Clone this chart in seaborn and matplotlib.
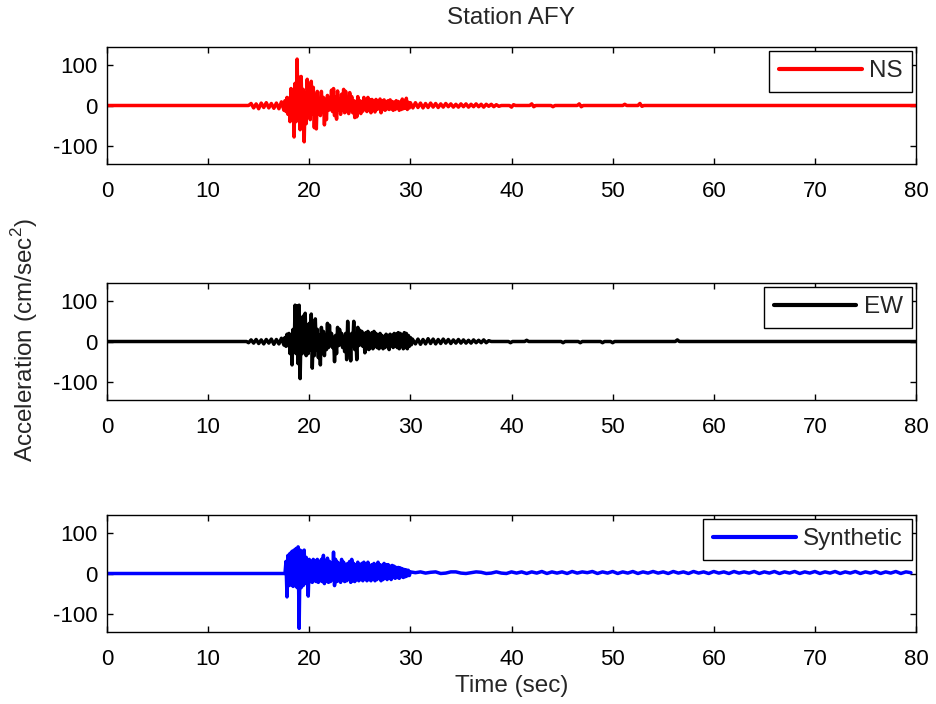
import matplotlib
matplotlib.use("Agg")
import matplotlib.pyplot as plt
import seaborn as sns
import pandas as pd

# ---------------- data ----------------
# NS component: time (s) and acceleration (cm/s^2)
ns_time = [
    0.0, 14.0, 14.25, 14.5, 14.75, 15.0, 15.25, 15.5, 15.75, 16.0,
    16.25, 16.5, 16.75, 17.0, 17.25, 17.5,
    17.6, 17.7, 17.8, 17.9, 18.0, 18.1, 18.2, 18.3, 18.4, 18.5,
    18.6, 18.7, 18.8, 18.9, 19.0, 19.1, 19.2, 19.3, 19.4, 19.5,
    19.6, 19.7, 19.8, 19.9, 20.0, 20.1, 20.2, 20.3, 20.4, 20.5,
    20.6, 20.7, 20.8, 20.9, 21.0, 21.1, 21.2, 21.3, 21.4, 21.5,
    21.6, 21.7, 21.8, 21.9, 22.0, 22.1, 22.2, 22.3, 22.4, 22.5,
    22.6, 22.7, 22.8, 22.9, 23.0, 23.1, 23.2, 23.3, 23.4, 23.5,
    23.6, 23.7, 23.8, 23.9, 24.0, 24.1, 24.2, 24.3, 24.4, 24.5,
    24.6, 24.7, 24.8, 24.9, 25.0, 25.1, 25.2, 25.3, 25.4, 25.5,
    25.6, 25.7, 25.8, 25.9, 26.0, 26.1, 26.2, 26.3, 26.4, 26.5,
    26.6, 26.7, 26.8, 26.9, 27.0, 27.1, 27.2, 27.3, 27.4, 27.5,
    27.6, 27.7, 27.8, 27.9, 28.0, 28.1, 28.2, 28.3, 28.4, 28.5,
    28.6, 28.7, 28.8, 28.9, 29.0, 29.1, 29.2, 29.3, 29.4, 29.5,
    29.6, 29.7, 29.8, 29.9, 30.0,
    30.25, 30.5, 30.75, 31.0, 31.25, 31.5, 31.75, 32.0, 32.25, 32.5,
    32.75, 33.0, 33.25, 33.5, 33.75, 34.0, 34.25, 34.5, 34.75, 35.0,
    35.25, 35.5, 35.75, 36.0, 36.25, 36.5, 36.75, 37.0, 37.25, 37.5,
    37.75, 38.0, 38.25, 38.5, 38.75, 39.0,
    39.8, 40.0, 40.2, 40.4, 41.8, 42.0, 42.2, 42.4, 43.9, 44.1,
    44.3, 46.5, 46.7, 46.9, 47.1, 51.0, 51.2, 51.4, 52.5, 52.7,
    52.9, 53.1, 80.0,
]
ns_acc = [
    0, 0, 5, -6, 4, -8, 6, -5, 7, -6,
    5, -7, 6, -8, 9, -12,
    12, -15, 20, -22, 18, -40, 42, -30, 25, -78,
    55, -40, 115, -35, 70, -60, 72, -30, 40, -90,
    30, -45, 65, -25, 30, -35, 60, -20, 45, -55,
    25, -58, 35, -20, 15, -25, 35, -15, 20, -48,
    15, -35, 25, -12, 18, -10, 38, -15, 42, -25,
    20, -34, 36, -12, 15, -22, 28, -10, 40, -18,
    35, -15, 18, -20, 32, -10, 22, -18, 12, -30,
    10, -28, 22, -8, 12, -20, 10, -14, 20, -10,
    12, -15, 20, -10, 14, -18, 15, -12, 10, -16,
    15, -10, 12, -8, 16, -18, 12, -10, 14, -12,
    10, -8, 12, -10, 14, -8, 10, -12, 8, -10,
    12, -6, 10, -12, 8, -10, 16, -8, 10, -6,
    18, -10, 8, -6, 7,
    -6, 7, -5, 6, -6, 5, -5, 6, -4, 5,
    -5, 4, -4, 5, -3, 4, -4, 3, -4, 4,
    -3, 4, -4, 3, -3, 4, -3, 3, -4, 3,
    -2, 3, -3, 2, -2, 0,
    0, -4, 2, 0, 0, 4, -3, 0, 0, -3,
    0, 0, 4, -3, 0, 0, 3, 0, 0, 5,
    -2, 0, 0,
]

# EW component
ew_time = [
    0.0, 13.8, 14.0, 14.25, 14.5, 14.75, 15.0, 15.25, 15.5, 15.75,
    16.0, 16.25, 16.5, 16.75, 17.0, 17.25, 17.5,
    17.6, 17.7, 17.8, 17.9, 18.0, 18.1, 18.2, 18.3, 18.4, 18.5,
    18.6, 18.7, 18.8, 18.9, 19.0, 19.1, 19.2, 19.3, 19.4, 19.5,
    19.6, 19.7, 19.8, 19.9, 20.0, 20.1, 20.2, 20.3, 20.4, 20.5,
    20.6, 20.7, 20.8, 20.9, 21.0, 21.1, 21.2, 21.3, 21.4, 21.5,
    21.6, 21.7, 21.8, 21.9, 22.0, 22.1, 22.2, 22.3, 22.4, 22.5,
    22.6, 22.7, 22.8, 22.9, 23.0, 23.1, 23.2, 23.3, 23.4, 23.5,
    23.6, 23.7, 23.8, 23.9, 24.0, 24.1, 24.2, 24.3, 24.4, 24.5,
    24.6, 24.7, 24.8, 24.9, 25.0, 25.1, 25.2, 25.3, 25.4, 25.5,
    25.6, 25.7, 25.8, 25.9, 26.0, 26.1, 26.2, 26.3, 26.4, 26.5,
    26.6, 26.7, 26.8, 26.9, 27.0, 27.1, 27.2, 27.3, 27.4, 27.5,
    27.6, 27.7, 27.8, 27.9, 28.0, 28.1, 28.2, 28.3, 28.4, 28.5,
    28.6, 28.7, 28.8, 28.9, 29.0, 29.1, 29.2, 29.3, 29.4, 29.5,
    29.6, 29.7, 29.8, 29.9, 30.0, 30.1, 30.2,
    30.5, 30.75, 31.0, 31.25, 31.5, 31.75, 32.0, 32.25, 32.5, 32.75,
    33.0, 33.25, 33.5, 33.75, 34.0, 34.25, 34.5, 34.75, 35.0, 35.25,
    35.5, 35.75, 36.0, 36.25, 36.5, 36.75, 37.0, 37.25, 37.5, 37.75,
    38.0,
    39.7, 39.9, 40.1, 41.3, 41.5, 41.7, 44.9, 45.1, 45.3, 46.6,
    46.8, 47.0, 48.8, 49.0, 49.2, 49.8, 50.0, 50.2, 56.2, 56.4,
    56.6, 80.0,
]
ew_acc = [
    0, 0, -3, 4, -4, 5, -5, 4, -6, 5,
    -4, 6, -7, 5, -6, 8, -9,
    10, -12, 18, -10, 20, -30, 12, -58, 30, -25,
    90, -30, 88, -55, 90, -92, 45, -30, 63, -25,
    70, -35, 40, -30, 45, -20, 68, -66, 25, -35,
    56, -20, 30, -40, 15, -58, 35, -15, 25, -35,
    15, -20, 45, -15, 40, -10, 20, -15, 10, -50,
    15, -30, 35, -10, 30, -8, 20, -15, 12, -25,
    20, -45, 50, -15, 10, -48, 20, -10, 50, -20,
    15, -45, 35, -10, 28, -8, 25, -12, 10, -28,
    22, -18, 25, -20, 15, -15, 22, -18, 25, -12,
    20, -15, 15, -18, 20, -10, 15, -18, 12, -15,
    18, -12, 15, -20, 18, -10, 15, -15, 20, -12,
    18, -15, 22, -18, 20, -12, 15, -18, 22, -15,
    20, -18, 15, -12, 10, -8, 6,
    -6, 6, -7, 5, -6, 7, -5, 6, -6, 5,
    -5, 6, -4, 5, -5, 4, -4, 5, -4, 4,
    -4, 3, -4, 4, -3, 3, -3, 4, -3, 2,
    0,
    0, -3, 0, 0, 3, 0, 0, -3, 0, 0,
    -3, 0, 0, -3, 0, 0, -3, 0, 0, 4,
    0, 0,
]

# Synthetic
syn_time = [
    0.0, 17.6,
    17.7, 17.8, 17.9, 18.0, 18.1, 18.2, 18.3, 18.4, 18.5, 18.6,
    18.7, 18.8, 18.9, 19.0, 19.1, 19.2, 19.3, 19.4, 19.5, 19.6,
    19.7, 19.8, 19.9, 20.0, 20.1, 20.2, 20.3, 20.4, 20.5, 20.6,
    20.7, 20.8, 20.9, 21.0, 21.1, 21.2, 21.3, 21.4, 21.5, 21.6,
    21.7, 21.8, 21.9, 22.0, 22.1, 22.2, 22.3, 22.4, 22.5, 22.6,
    22.7, 22.8, 22.9, 23.0, 23.1, 23.2, 23.3, 23.4, 23.5, 23.6,
    23.7, 23.8, 23.9, 24.0, 24.1, 24.2, 24.3, 24.4, 24.5, 24.6,
    24.7, 24.8, 24.9, 25.0, 25.1, 25.2, 25.3, 25.4, 25.5, 25.6,
    25.7, 25.8, 25.9, 26.0, 26.1, 26.2, 26.3, 26.4, 26.5, 26.6,
    26.7, 26.8, 26.9, 27.0, 27.1, 27.2, 27.3, 27.4, 27.5, 27.6,
    27.7, 27.8, 27.9, 28.0, 28.1, 28.2, 28.3, 28.4, 28.5, 28.6,
    28.7, 28.8, 28.9, 29.0, 29.1, 29.2, 29.3, 29.4, 29.5, 29.6,
    29.7, 29.8, 29.9, 30.0,
    30.5, 31.0, 31.5, 32.0, 32.5, 33.0, 33.5, 34.0, 34.5, 35.0,
    35.5, 36.0, 36.5, 37.0, 37.5, 38.0, 38.5, 39.0, 39.5, 40.0,
    40.5, 41.0, 41.5, 42.0, 42.5, 43.0, 43.5, 44.0, 44.5, 45.0,
    45.5, 46.0, 46.5, 47.0, 47.5, 48.0, 48.5, 49.0, 49.5, 50.0,
    50.5, 51.0, 51.5, 52.0, 52.5, 53.0, 53.5, 54.0, 54.5, 55.0,
    55.5, 56.0, 56.5, 57.0, 57.5, 58.0, 58.5, 59.0, 59.5, 60.0,
    60.5, 61.0, 61.5, 62.0, 62.5, 63.0, 63.5, 64.0, 64.5, 65.0,
    65.5, 66.0, 66.5, 67.0, 67.5, 68.0, 68.5, 69.0, 69.5, 70.0,
    70.5, 71.0, 71.5, 72.0, 72.5, 73.0, 73.5, 74.0, 74.5, 75.0,
    75.5, 76.0, 76.5, 77.0, 77.5, 78.0, 78.5, 79.0, 79.5,
]
syn_acc = [
    0, 0,
    30, -58, 45, -30, 50, -28, 55, -32, 58, -30,
    62, -35, 66, -136, 58, -35, 55, -30, 58, -25,
    40, 20, -56, 35, -20, 30, -22, 35, -18, 32,
    -20, 35, -22, 28, -18, 35, -20, 45, -25, 30,
    -18, 38, -22, 30, -20, 25, -15, 53, -30, 35,
    -20, 28, -18, 25, -22, 35, -15, 28, -20, 22,
    -18, 25, -15, 30, -22, 35, -18, 25, -20, 22,
    -15, 28, -18, 20, -15, 25, -18, 28, -12, 22,
    -18, 28, -15, 20, -18, 22, -12, 25, -18, 20,
    -15, 28, -12, 22, -18, 20, -15, 25, -12, 22,
    -15, 22, -12, 18, -15, 20, -10, 18, -12, 15,
    -10, 15, -12, 14, -8, 12, -10, 10, -8, 9,
    -6, 8, -5, 4,
    2, 4, 1, 3, 4, 0, 1, 4, 4, 1,
    0, 2, 4, 3, 0, 1, 4, 1, 0, 4,
    1, 4, 0, 4, 1, 5, 0, 4, 1, 4,
    0, 5, 1, 4, 2, 5, 0, 4, 1, 5,
    0, 4, 1, 5, 0, 4, 1, 5, 1, 4,
    0, 5, 1, 4, 0, 5, 1, 4, 0, 5,
    1, 4, 0, 5, 1, 4, 1, 5, 0, 4,
    1, 5, 0, 4, 1, 5, 0, 4, 1, 5,
    0, 4, 1, 5, 0, 4, 1, 5, 0, 4,
    1, 5, 0, 4, 1, 5, 0, 4, 2,
]

series_names = ["NS", "EW", "Synthetic"]
series_colors = ["#ff0000", "#000000", "#0000ff"]
x_ticks = [0, 10, 20, 30, 40, 50, 60, 70, 80]
y_ticks = [-100, 0, 100]

# ---------------- style ----------------
sns.set_theme(style="ticks")
plt.rcParams["font.family"] = ["Liberation Sans", "DejaVu Sans"]
plt.rcParams["axes.unicode_minus"] = False
plt.rcParams["mathtext.fontset"] = "custom"
plt.rcParams["mathtext.rm"] = "Liberation Sans"

TICK_FS = 16
LABEL_FS = 17.5

fig = plt.figure(figsize=(9.36, 7.04), dpi=100)
fig.patch.set_facecolor("white")

left, width, height = 107 / 936, 809 / 936, 117 / 704
bottoms = [1 - 164 / 704, 1 - 400 / 704, 1 - 632 / 704]

data = [(ns_time, ns_acc), (ew_time, ew_acc), (syn_time, syn_acc)]

for i, ((t, a), name, col) in enumerate(zip(data, series_names, series_colors)):
    ax = fig.add_axes([left, bottoms[i], width, height])
    df = pd.DataFrame({"t": t, "a": a})
    sns.lineplot(data=df, x="t", y="a", ax=ax, color=col, lw=2.5,
                 estimator=None, sort=False, label=name)
    ax.set_xlim(0, 80)
    ax.set_ylim(-145, 145)
    ax.set_xticks(x_ticks)
    ax.set_yticks(y_ticks)
    ax.set_xlabel("")
    ax.set_ylabel("")
    ax.tick_params(direction="in", length=4, width=1, top=True, right=True,
                   labelsize=TICK_FS, color="black", labelcolor="black")
    ax.tick_params(axis="x", pad=12)
    ax.tick_params(axis="y", pad=7)
    for s in ax.spines.values():
        s.set_visible(True)
        s.set_color("black")
        s.set_linewidth(1.0)
    ax.set_facecolor("white")
    leg = ax.legend(loc="upper right", fontsize=LABEL_FS, handlelength=3.4,
                    handletextpad=0.3, borderaxespad=0.15, borderpad=0.4,
                    fancybox=False, framealpha=1, edgecolor="black")
    leg.get_frame().set_linewidth(1.0)
    for line in leg.get_lines():
        line.set_linewidth(3.0)

cx = (107 + 916) / 2 / 936
fig.text(cx, 1 - 18 / 704, "Station AFY", ha="center", va="center",
         fontsize=LABEL_FS)
fig.text(cx, 1 - 686 / 704, "Time (sec)", ha="center", va="center",
         fontsize=LABEL_FS)
fig.text(25 / 936, 1 - 340 / 704, "Acceleration (cm/sec$^2$)", ha="center",
         va="center", rotation=90, fontsize=LABEL_FS)

fig.savefig("out.png", dpi=100, facecolor="white")
